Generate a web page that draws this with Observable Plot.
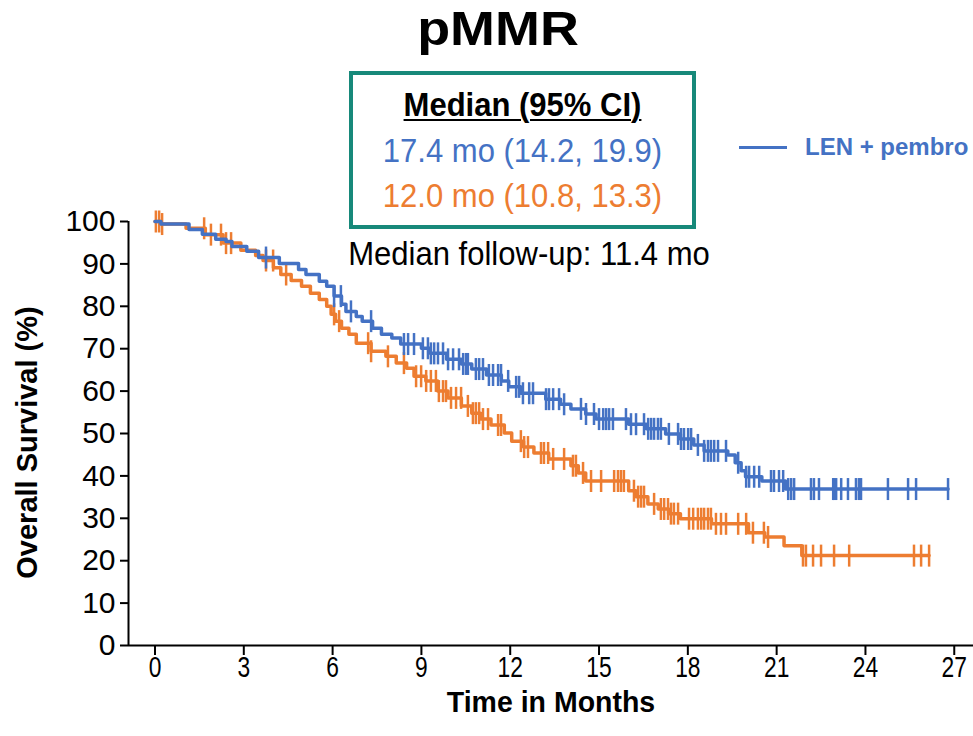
<!DOCTYPE html>
<html>
<head>
<meta charset="utf-8">
<script src="https://cdn.jsdelivr.net/npm/d3@7"></script>
<script src="https://cdn.jsdelivr.net/npm/@observablehq/plot@0.6"></script>
<style>
  html, body { margin: 0; padding: 0; background: #fff; overflow: hidden; }
  #wrap { position: relative; width: 973px; height: 736px; overflow: hidden; }
  #chart { position: absolute; left: 0; top: 0; }
  .ov { position: absolute; white-space: nowrap; font-family: "Liberation Sans", Arial, sans-serif; }
  .cond { transform: scaleX(0.94); transform-origin: center; }
</style>
</head>
<body>
<div id="wrap">
  <div id="chart"></div>
  <div class="ov" id="title" style="left:0;width:996px;top:0px;text-align:center;font-weight:bold;font-size:49px;color:#000;transform:scaleX(1.1);transform-origin:498px 0;">pMMR</div>
  <div class="ov" id="box" style="left:349px;top:71px;width:339px;height:150px;border:4px solid #17897a;"></div>
  <div class="ov cond" id="mh" style="left:349px;width:347px;top:86px;text-align:center;font-weight:bold;font-size:33px;text-decoration:underline;text-decoration-thickness:2px;text-underline-offset:3px;color:#000;">Median (95% CI)</div>
  <div class="ov cond" id="m1" style="left:349px;width:347px;top:132px;text-align:center;font-size:33px;color:#4472C4;"></div>
  <div class="ov cond" id="m2" style="left:349px;width:347px;top:177px;text-align:center;font-size:33px;color:#ED7D31;"></div>
  <div class="ov cond" id="fu" style="left:329px;width:400px;top:235px;text-align:center;font-size:33px;color:#000;"></div>
  <div class="ov" id="leg" style="left:739px;top:133px;font-weight:bold;font-size:24px;color:#4472C4;">
    <span style="display:inline-block;width:48px;height:3.5px;background:#4472C4;vertical-align:middle;margin-right:18px;position:relative;top:-1px;"></span><span id="legtxt"></span>
  </div>
</div>
<script>
// ---- Data ----
const arms = ["LEN + pembro", "TPC"];
const armColors = ["#4472C4", "#ED7D31"];
const medianLabels = ["17.4 mo (14.2, 19.9)", "12.0 mo (10.8, 13.3)"];
const followUpLabel = "Median follow-up: 11.4 mo";
const xTicks = [0, 3, 6, 9, 12, 15, 18, 21, 24, 27];
const yTicks = [0, 10, 20, 30, 40, 50, 60, 70, 80, 90, 100];

// LEN + pembro: step times (months) and survival (%) after each step
const blueT = [0, 0.2, 1.15, 1.6, 2.05, 2.4, 2.6, 3.1, 3.5, 4.2, 4.85, 5.1, 5.55, 5.8, 6.05, 6.3, 6.45, 6.8, 7.0, 7.35, 7.65, 8.0, 8.3, 9.0, 9.3, 9.85, 10.35, 10.7, 11.2, 11.7, 11.95, 12.35, 13.2, 13.7, 14.05, 14.55, 14.9, 16.0, 16.6, 17.25, 17.75, 18.2, 18.55, 19.35, 19.6, 19.8, 19.95, 20.5, 21.3];
const blueS = [100, 99.4, 98.1, 97.0, 95.8, 95.3, 94.1, 93.0, 91.5, 90.1, 88.7, 87.5, 85.9, 84.7, 82.4, 80.5, 78.8, 77.6, 76.5, 74.8, 73.4, 72.5, 71.1, 70.1, 68.9, 67.5, 66.4, 65.2, 63.8, 62.4, 61.0, 59.5, 58.1, 56.9, 55.8, 54.6, 53.4, 52.2, 51.1, 49.9, 48.7, 47.3, 45.9, 44.9, 43.1, 41.2, 39.8, 38.8, 36.9];
const blueEnd = 26.79;
const blueCensor = [3.75, 6.05, 6.28, 6.62, 7.30, 8.41, 8.55, 8.75, 9.05, 9.22, 9.32, 9.43, 9.56, 9.73, 9.90, 10.07, 10.27, 10.41, 10.51, 10.57, 10.84, 10.95, 11.08, 11.28, 11.42, 11.59, 11.69, 11.93, 12.20, 12.30, 12.43, 12.64, 12.77, 13.21, 13.31, 13.45, 13.65, 13.82, 14.39, 14.56, 14.83, 15.00, 15.14, 15.24, 15.34, 15.47, 15.91, 16.08, 16.25, 16.52, 16.66, 16.76, 16.86, 16.99, 17.09, 17.36, 17.67, 17.77, 17.87, 18.01, 18.11, 18.34, 18.55, 18.68, 18.78, 18.89, 19.02, 19.29, 19.70, 19.97, 20.07, 20.24, 20.41, 20.81, 20.91, 21.08, 21.22, 21.39, 21.49, 21.59, 22.16, 22.26, 22.43, 22.91, 22.94, 23.01, 23.18, 23.41, 23.68, 23.78, 23.85, 24.76, 25.44, 25.71, 26.79];

// TPC
const orangeT = [0, 0.2, 1.05, 1.7, 2.3, 2.9, 3.4, 3.65, 4.0, 4.25, 4.6, 4.95, 5.25, 5.55, 5.8, 5.95, 6.1, 6.3, 6.55, 6.8, 7.3, 7.8, 8.15, 8.5, 8.75, 9.15, 9.55, 9.9, 10.35, 10.7, 11.0, 11.35, 11.8, 12.05, 12.45, 12.8, 13.3, 14.05, 14.3, 14.55, 16.0, 16.25, 16.65, 17.0, 17.35, 17.75, 18.8, 20.05, 20.6, 21.25, 21.85];
const orangeS = [100, 99.4, 98.4, 96.9, 94.9, 93.2, 92.0, 90.8, 89.1, 87.5, 86.1, 84.7, 83.1, 81.6, 80.0, 78.1, 76.5, 74.8, 73.4, 71.3, 69.4, 68.2, 66.6, 65.4, 63.5, 62.4, 60.0, 58.4, 56.5, 54.8, 53.4, 52.0, 50.1, 48.2, 46.8, 45.4, 44.0, 42.4, 40.7, 38.8, 36.5, 35.1, 33.4, 32.2, 31.1, 29.9, 28.7, 26.6, 25.6, 23.5, 21.2];
const orangeEnd = 26.15;
const orangeCensor = [0.03, 0.14, 0.24, 1.66, 1.89, 2.23, 2.40, 2.57, 3.75, 3.99, 4.43, 6.05, 6.22, 7.20, 7.30, 7.87, 8.41, 8.82, 8.99, 9.16, 9.32, 9.49, 9.59, 9.73, 9.83, 10.00, 10.17, 10.34, 10.57, 10.74, 10.84, 10.95, 11.08, 11.25, 11.59, 11.69, 12.36, 12.47, 12.60, 13.04, 13.14, 13.28, 13.45, 13.82, 14.12, 14.22, 14.46, 14.73, 15.07, 15.51, 15.64, 15.74, 15.84, 16.18, 16.32, 16.42, 16.52, 16.86, 17.09, 17.20, 17.33, 17.43, 17.53, 17.67, 18.04, 18.18, 18.34, 18.45, 18.55, 18.68, 18.78, 18.95, 19.12, 19.29, 19.70, 19.97, 20.20, 20.57, 20.71, 21.89, 21.99, 22.23, 22.50, 22.94, 23.45, 25.64, 25.88, 26.15];

// ---- Build tables ----
function stepRows(T, S, end, arm) {
  const rows = T.map((t, i) => ({t, s: S[i], arm}));
  rows.push({t: end, s: S[S.length - 1], arm});
  return rows;
}
function valueAt(T, S, t) {
  let v = S[0];
  for (let i = 0; i < T.length; i++) if (T[i] <= t) v = S[i];
  return v;
}
const steps = [
  ...stepRows(blueT, blueS, blueEnd, arms[0]),
  ...stepRows(orangeT, orangeS, orangeEnd, arms[1])
];
const censors = [
  ...blueCensor.map(t => ({t, s: valueAt(blueT, blueS, t), arm: arms[0]})),
  ...orangeCensor.map(t => ({t, s: valueAt(orangeT, orangeS, t), arm: arms[1]}))
];

const vtick = { draw(ctx) { ctx.moveTo(0, -11); ctx.lineTo(0, 11); } };
const xDomain = [-0.895, 27.65];
const font = "'Liberation Sans', Arial, sans-serif";

const plot = Plot.plot({
  width: 973,
  height: 736,
  marginLeft: 128,
  marginRight: 0,
  marginTop: 221,
  marginBottom: 91,
  x: { domain: xDomain },
  y: { domain: [0, 100] },
  color: { domain: arms, range: armColors },
  style: { background: "white", color: "#000", overflow: "visible" },
  marks: [
    Plot.axisY({ ticks: yTicks, tickSize: 8, tickPadding: 5, fontSize: 30, fontFamily: font, strokeWidth: 2, label: null }),
    Plot.axisX({ ticks: xTicks, tickSize: 10, tickPadding: 0, fontSize: 30, fontFamily: font, strokeWidth: 2, label: null }),
    Plot.ruleY([0], { stroke: "#000", strokeWidth: 2 }),
    Plot.ruleX([xDomain[0]], { y1: 0, y2: 100, stroke: "#000", strokeWidth: 2 }),
    Plot.line(steps.filter(d => d.arm === arms[1]), { x: "t", y: "s", stroke: armColors[1], strokeWidth: 3.5, curve: "step-after" }),
    Plot.dot(censors.filter(d => d.arm === arms[1]), { x: "t", y: "s", symbol: vtick, stroke: armColors[1], fill: "none", strokeWidth: 2.5 }),
    Plot.line(steps.filter(d => d.arm === arms[0]), { x: "t", y: "s", stroke: armColors[0], strokeWidth: 3.5, curve: "step-after" }),
    Plot.dot(censors.filter(d => d.arm === arms[0]), { x: "t", y: "s", symbol: vtick, stroke: armColors[0], fill: "none", strokeWidth: 2.5 }),
    Plot.text(["Time in Months"], { frameAnchor: "bottom", dy: 57, fontSize: 30, fontWeight: "bold", fontFamily: font, fill: "#000", lineAnchor: "middle" }),
    Plot.text(["Overall Survival (%)"], { frameAnchor: "left", textAnchor: "middle", lineAnchor: "middle", dx: -101, dy: 9, rotate: -90, fontSize: 29, fontWeight: "bold", fontFamily: font, fill: "#000" })
  ]
});
// condensed look of the x tick labels and x-axis title
plot.querySelectorAll('g[aria-label="x-axis tick label"] text').forEach(t => {
  t.setAttribute("transform", (t.getAttribute("transform") || "") + " scale(0.76,1)");
});
plot.querySelectorAll('g[aria-label="text"] text').forEach(t => {
  if (t.textContent === "Time in Months") t.setAttribute("transform", (t.getAttribute("transform") || "") + " scale(0.95,1)");
});
document.getElementById("chart").appendChild(plot);
document.getElementById("m1").textContent = medianLabels[0];
document.getElementById("m2").textContent = medianLabels[1];
document.getElementById("fu").textContent = followUpLabel;
document.getElementById("legtxt").textContent = arms[0];
</script>
</body>
</html>
